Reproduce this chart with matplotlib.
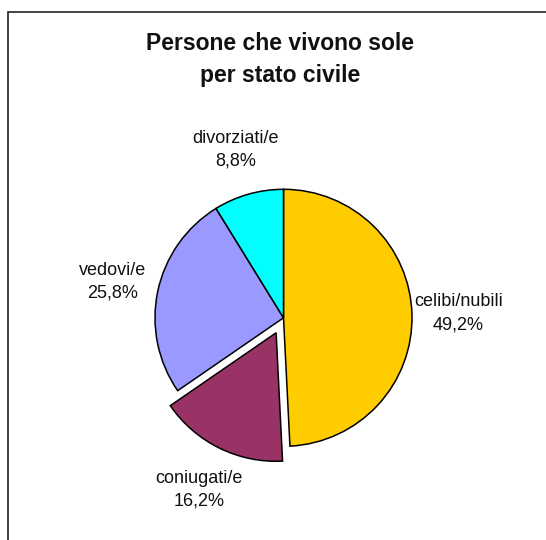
import matplotlib
matplotlib.use("Agg")
import matplotlib.pyplot as plt
from matplotlib.patches import Rectangle

# data (clockwise from 12 o'clock)
categories = ["celibi/nubili", "coniugati/e", "vedovi/e", "divorziati/e"]
shares = [49.2, 16.2, 25.8, 8.8]
share_labels = ["49,2%", "16,2%", "25,8%", "8,8%"]
colors = ["#FFCC00", "#993366", "#9999FF", "#00FFFF"]
explode = [0, 0.13, 0, 0]

plt.rcParams["font.family"] = ["Liberation Sans", "DejaVu Sans"]

W, H = 546, 540
fig = plt.figure(figsize=(W / 100, H / 100), dpi=100)

# pie placement in pixels
cx, cy, R, half = 283.5, 317.8, 128.5, 250
ax = fig.add_axes([(cx - half) / W, (H - cy - half) / H, 2 * half / W, 2 * half / H])

labels = [f"{c}\n{s}" for c, s in zip(categories, share_labels)]
wedges, texts = ax.pie(
    shares,
    labels=labels,
    colors=colors,
    explode=explode,
    startangle=90,
    counterclock=False,
    labeldistance=1.36,
    wedgeprops={"edgecolor": "black", "linewidth": 1.1},
    textprops={"fontsize": 13, "color": "#111111"},
)
for t in texts:
    t.set_ha("center")
    t.set_va("center")
    t.set_linespacing(1.45)

lim = half / R
ax.set_xlim(-lim, lim)
ax.set_ylim(-lim, lim)
ax.axis("off")

fig.text(280 / W, 1 - 59.5 / H, "Persone che vivono sole\nper stato civile",
         ha="center", va="center", fontsize=16.5, fontweight="bold",
         linespacing=1.45, color="#111111")

# chart frame (open at right and bottom, as in the source)
fig.patches.append(Rectangle((7.5 / W, -0.1), 1.2, 1.1 - 11.5 / H,
                             transform=fig.transFigure, fill=False,
                             edgecolor="#222222", linewidth=1.2))

fig.savefig("out.png", dpi=100)
